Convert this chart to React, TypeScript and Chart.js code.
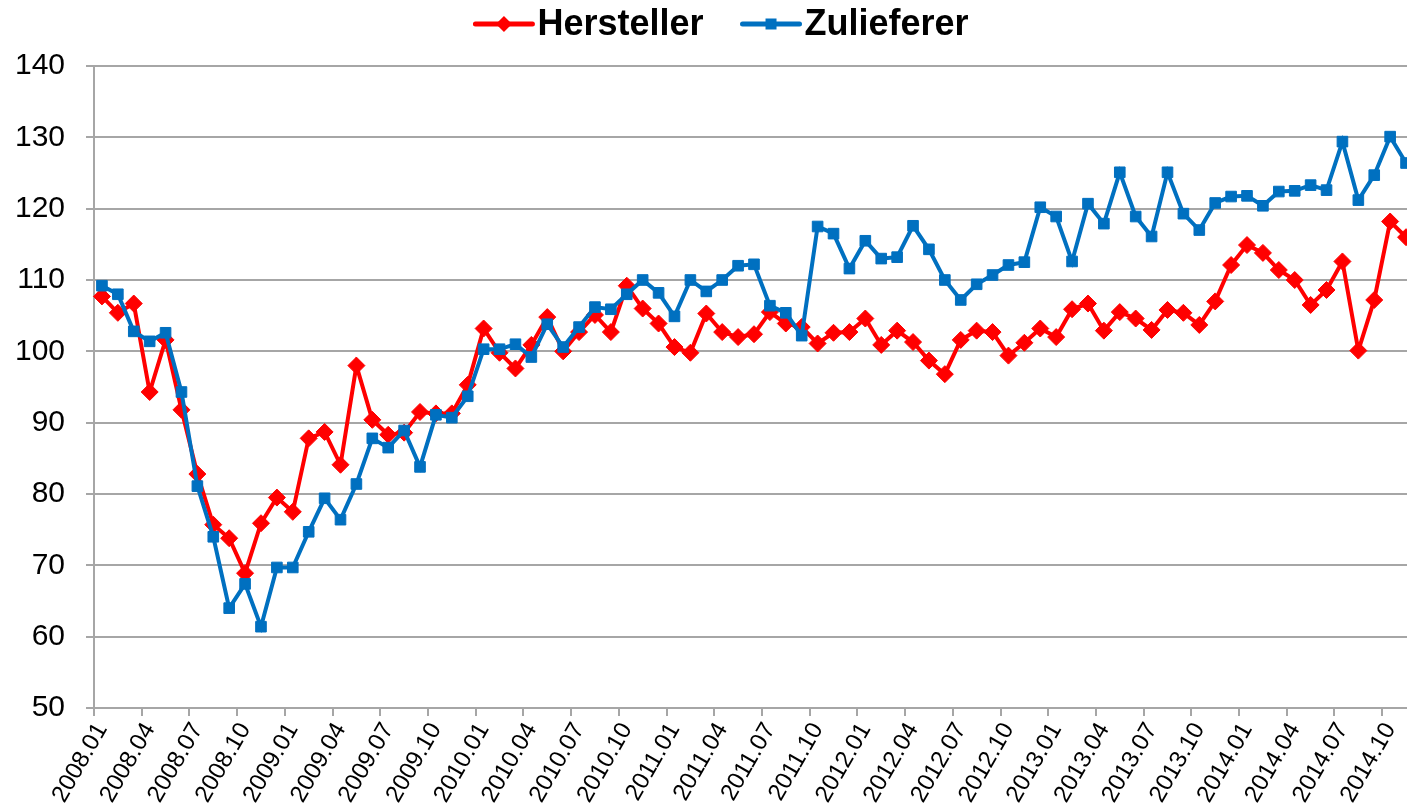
import React, { useEffect, useRef } from 'react';
import { Chart, registerables } from 'chart.js';

Chart.register(...registerables);

const months: string[] = [
  '2008.01', '2008.02', '2008.03', '2008.04', '2008.05', '2008.06', '2008.07', '2008.08', '2008.09', '2008.10', '2008.11', '2008.12',
  '2009.01', '2009.02', '2009.03', '2009.04', '2009.05', '2009.06', '2009.07', '2009.08', '2009.09', '2009.10', '2009.11', '2009.12',
  '2010.01', '2010.02', '2010.03', '2010.04', '2010.05', '2010.06', '2010.07', '2010.08', '2010.09', '2010.10', '2010.11', '2010.12',
  '2011.01', '2011.02', '2011.03', '2011.04', '2011.05', '2011.06', '2011.07', '2011.08', '2011.09', '2011.10', '2011.11', '2011.12',
  '2012.01', '2012.02', '2012.03', '2012.04', '2012.05', '2012.06', '2012.07', '2012.08', '2012.09', '2012.10', '2012.11', '2012.12',
  '2013.01', '2013.02', '2013.03', '2013.04', '2013.05', '2013.06', '2013.07', '2013.08', '2013.09', '2013.10', '2013.11', '2013.12',
  '2014.01', '2014.02', '2014.03', '2014.04', '2014.05', '2014.06', '2014.07', '2014.08', '2014.09', '2014.10', '2014.11',
];

const hersteller: number[] = [
  107.7, 105.4, 106.7, 94.3, 101.6, 91.8, 82.8, 75.7, 73.8, 68.9, 75.9, 79.5,
  77.5, 87.8, 88.7, 84.1, 98.0, 90.4, 88.3, 88.6, 91.5, 91.3, 91.3, 95.3,
  103.2, 99.8, 97.6, 100.9, 104.8, 100.0, 102.7, 105.1, 102.7, 109.2, 106.0, 103.9,
  100.6, 99.8, 105.3, 102.7, 102.0, 102.4, 105.5, 103.9, 103.4, 101.1, 102.6, 102.7,
  104.6, 100.9, 102.9, 101.3, 98.7, 96.8, 101.6, 102.9, 102.7, 99.4, 101.2, 103.2,
  102.0, 105.9, 106.7, 102.9, 105.5, 104.6, 103.0, 105.8, 105.4, 103.7, 107.0, 112.1,
  114.9, 113.8, 111.4, 110.0, 106.5, 108.6, 112.6, 100.1, 107.2, 118.2, 116.0,
];

const zulieferer: number[] = [
  109.2, 108.0, 102.8, 101.4, 102.6, 94.3, 81.1, 74.0, 64.0, 67.4, 61.4, 69.7,
  69.7, 74.7, 79.4, 76.4, 81.4, 87.8, 86.5, 88.9, 83.8, 91.1, 90.7, 93.7,
  100.3, 100.3, 101.0, 99.2, 103.8, 100.6, 103.4, 106.2, 105.9, 108.0, 110.0, 108.2,
  104.9, 110.0, 108.4, 110.0, 112.0, 112.2, 106.4, 105.4, 102.2, 117.5, 116.5, 111.6,
  115.5, 113.0, 113.2, 117.6, 114.3, 110.0, 107.2, 109.4, 110.7, 112.1, 112.5, 120.2,
  118.9, 112.6, 120.7, 117.9, 125.1, 118.9, 116.1, 125.1, 119.3, 117.0, 120.8, 121.7,
  121.8, 120.4, 122.4, 122.5, 123.3, 122.6, 129.4, 121.2, 124.7, 130.1, 126.4,
];

const seriesNames: string[] = ['Hersteller', 'Zulieferer'];
const seriesColors: string[] = ['#ff0000', '#0070c0'];
const yMin = 50;
const yMax = 140;
const yStep = 10;
const labelEvery = 3;

const FONT = '"Liberation Sans", Arial, Helvetica, sans-serif';
const GRID = '#a6a6a6';

const topLegend = {
  id: 'topLegend',
  afterDraw(chart: any) {
    const ctx = chart.ctx as CanvasRenderingContext2D;
    const datasets = chart.data.datasets;
    ctx.save();
    ctx.font = `bold 36px ${FONT}`;
    ctx.textBaseline = 'middle';
    ctx.textAlign = 'left';
    const sampleW = 57;
    const gap = 5;
    const spacing = 39;
    const widths = datasets.map((ds: any) => sampleW + gap + ctx.measureText(ds.label).width);
    const total = widths.reduce((a: number, b: number) => a + b, 0) + spacing * (datasets.length - 1);
    const centerX = 722;
    const y = 24;
    let x = centerX - total / 2;
    datasets.forEach((ds: any, i: number) => {
      const color = ds.borderColor as string;
      ctx.strokeStyle = color;
      ctx.fillStyle = color;
      ctx.lineWidth = 5;
      ctx.lineCap = 'round';
      ctx.beginPath();
      ctx.moveTo(x, y);
      ctx.lineTo(x + sampleW, y);
      ctx.stroke();
      const cx = x + sampleW / 2;
      ctx.beginPath();
      if (ds.pointStyle === 'rectRot') {
        const r = 8;
        ctx.moveTo(cx, y - r);
        ctx.lineTo(cx + r, y);
        ctx.lineTo(cx, y + r);
        ctx.lineTo(cx - r, y);
        ctx.closePath();
      } else {
        const h = 5.5;
        ctx.rect(cx - h, y - h, 2 * h, 2 * h);
      }
      ctx.fill();
      ctx.fillStyle = '#000000';
      ctx.fillText(ds.label, x + sampleW + gap, y + 1);
      x += widths[i] + spacing;
    });
    ctx.restore();
  },
};

export default function App() {
  const canvasRef = useRef<HTMLCanvasElement | null>(null);

  useEffect(() => {
    const canvas = canvasRef.current;
    if (!canvas) return;
    const chart = new Chart(canvas, {
      type: 'line',
      data: {
        labels: months,
        datasets: [
          {
            label: seriesNames[0],
            data: hersteller,
            borderColor: seriesColors[0],
            backgroundColor: seriesColors[0],
            pointBackgroundColor: seriesColors[0],
            pointBorderColor: seriesColors[0],
            borderWidth: 4,
            pointStyle: 'rectRot',
            pointRadius: 8.5,
            pointBorderWidth: 1,
            tension: 0,
            order: 1,
          },
          {
            label: seriesNames[1],
            data: zulieferer,
            borderColor: seriesColors[1],
            backgroundColor: seriesColors[1],
            pointBackgroundColor: seriesColors[1],
            pointBorderColor: seriesColors[1],
            borderWidth: 4,
            pointStyle: 'rect',
            pointRadius: 7.5,
            pointBorderWidth: 1,
            tension: 0,
            order: 0,
          },
        ],
      },
      options: {
        animation: false,
        responsive: true,
        maintainAspectRatio: false,
        layout: { autoPadding: false, padding: { top: 66, left: 0, right: 0, bottom: 0 } },
        plugins: {
          legend: { display: false },
          tooltip: { enabled: false },
        },
        scales: {
          x: {
            type: 'category',
            offset: true,
            afterFit: (scale: any) => {
              scale.height = 102;
              scale.paddingLeft = 0;
              scale.paddingRight = 0;
            },
            border: { display: true, color: GRID, width: 2 },
            grid: {
              offset: true,
              drawOnChartArea: false,
              drawTicks: true,
              tickLength: 8,
              lineWidth: 2,
              color: (ctx: any) => (ctx.index % labelEvery === 0 ? GRID : 'rgba(0,0,0,0)'),
            },
            ticks: {
              autoSkip: false,
              maxRotation: 60,
              minRotation: 60,
              padding: 2,
              color: '#000000',
              font: { family: FONT, size: 24 },
              callback: (_v: any, i: number) => (i % labelEvery === 0 ? months[i] : ''),
            },
          },
          y: {
            min: yMin,
            max: yMax,
            afterFit: (scale: any) => {
              scale.width = 94;
              scale.paddingTop = 0;
              scale.paddingBottom = 0;
            },
            border: { display: true, color: GRID, width: 2 },
            grid: {
              color: GRID,
              lineWidth: 2,
              drawTicks: true,
              tickLength: 8,
            },
            ticks: {
              stepSize: yStep,
              padding: 21,
              color: '#000000',
              font: { family: FONT, size: 30 },
            },
          },
        },
      },
      plugins: [topLegend],
    });
    return () => chart.destroy();
  }, []);

  return (
    <div style={{ position: 'absolute', left: 0, top: 0, width: 1407, height: 810, overflow: 'hidden', background: '#ffffff' }}>
      <div style={{ position: 'relative', width: 1414, height: 810 }}>
        <canvas ref={canvasRef} />
      </div>
    </div>
  );
}
